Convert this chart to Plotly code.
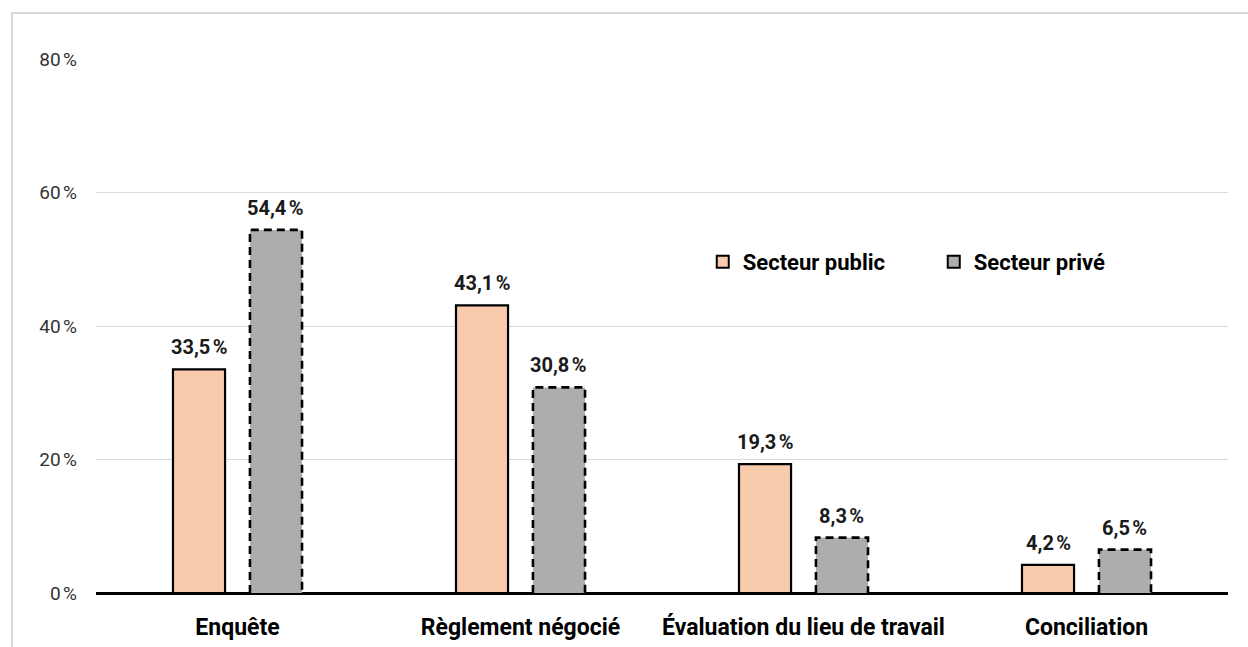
import plotly.graph_objects as go

categories = ["Enquête", "Règlement négocié", "Évaluation du lieu de travail", "Conciliation"]
public_values = [33.5, 43.1, 19.3, 4.2]
private_values = [54.4, 30.8, 8.3, 6.5]
y_ticks = [0, 20, 40, 60, 80]

PUBLIC_COLOR = "#F8CBAD"
PRIVATE_COLOR = "#ADADAD"
FONT = "Roboto, 'Liberation Sans', Arial, sans-serif"

BAR_W = 0.184
OFFSET = 0.136

x_idx = list(range(len(categories)))


def fmt(v):
    return f"{v:.1f}".replace(".", ",") + "\u202f%"


fig = go.Figure()

fig.add_trace(go.Bar(
    name="Secteur public",
    x=x_idx, y=public_values,
    offset=-OFFSET - BAR_W / 2, width=BAR_W,
    marker=dict(color=PUBLIC_COLOR, line=dict(color="black", width=2.2)),
))
fig.add_trace(go.Bar(
    name="Secteur privé", showlegend=False,
    x=x_idx, y=private_values,
    offset=OFFSET - BAR_W / 2, width=BAR_W,
    marker=dict(color=PRIVATE_COLOR, line=dict(width=0)),
))
# legend entry for the private sector (outlined swatch)
fig.add_trace(go.Bar(
    name="Secteur privé",
    x=[None], y=[None],
    marker=dict(color=PRIVATE_COLOR, line=dict(color="black", width=1.8)),
))

# dashed outlines around the private-sector bars
ox, oy = [], []
for i, v in zip(x_idx, private_values):
    x0 = i + OFFSET - BAR_W / 2
    x1 = i + OFFSET + BAR_W / 2
    ox += [x0, x0, x1, x1, None]
    oy += [0, v, v, 0, None]
fig.add_trace(go.Scatter(
    x=ox, y=oy, mode="lines", showlegend=False, hoverinfo="skip",
    line=dict(color="black", width=2.6, dash="8px,5px"),
))

# value labels above each bar
for vals, off in ((public_values, -OFFSET), (private_values, OFFSET)):
    for i, v in zip(x_idx, vals):
        fig.add_annotation(
            x=i + off, y=v, text=f"<b>{fmt(v)}</b>", showarrow=False,
            yanchor="bottom", yshift=8,
            font=dict(family=FONT, size=20, color="#1a1a1a"),
        )

# outer frame of the chart area
fig.add_shape(
    type="rect", xref="paper", yref="paper",
    x0=(12 - 96) / 1132, x1=1.2, y0=-0.3, y1=(593 - 13) / 534,
    line=dict(color="#d9d9d9", width=2), fillcolor="rgba(0,0,0,0)", layer="below",
)

fig.update_layout(
    width=1248, height=647,
    margin=dict(l=96, r=20, t=59, b=54, autoexpand=False),
    paper_bgcolor="white", plot_bgcolor="white",
    font=dict(family=FONT, color="#1a1a1a"),
    barmode="overlay",
    legend=dict(
        orientation="h", x=0.536, y=0.62, xanchor="left", yanchor="middle",
        font=dict(family=FONT, size=22, color="black", weight="bold"),
        entrywidth=186, entrywidthmode="pixels",
        itemsizing="constant", bgcolor="rgba(0,0,0,0)",
    ),
    xaxis=dict(
        range=[-0.5, len(categories) - 0.5],
        tickvals=x_idx, ticktext=[f"<b>{c}</b>" for c in categories],
        tickfont=dict(family=FONT, size=23, color="black"),
        showgrid=False, zeroline=False, showline=False, ticks="",
        ticklabelstandoff=18, automargin=False,
    ),
    yaxis=dict(
        range=[0, 80],
        tickvals=y_ticks, ticktext=[f"{t}\u202f%" for t in y_ticks],
        tickfont=dict(family=FONT, size=19, color="#333333"),
        showgrid=True, gridcolor="#d9d9d9", gridwidth=1.3,
        zeroline=True, zerolinecolor="black", zerolinewidth=2.6,
        showline=False, ticks="", ticklabelstandoff=18, automargin=False,
    ),
)

fig.write_html("out.html")
